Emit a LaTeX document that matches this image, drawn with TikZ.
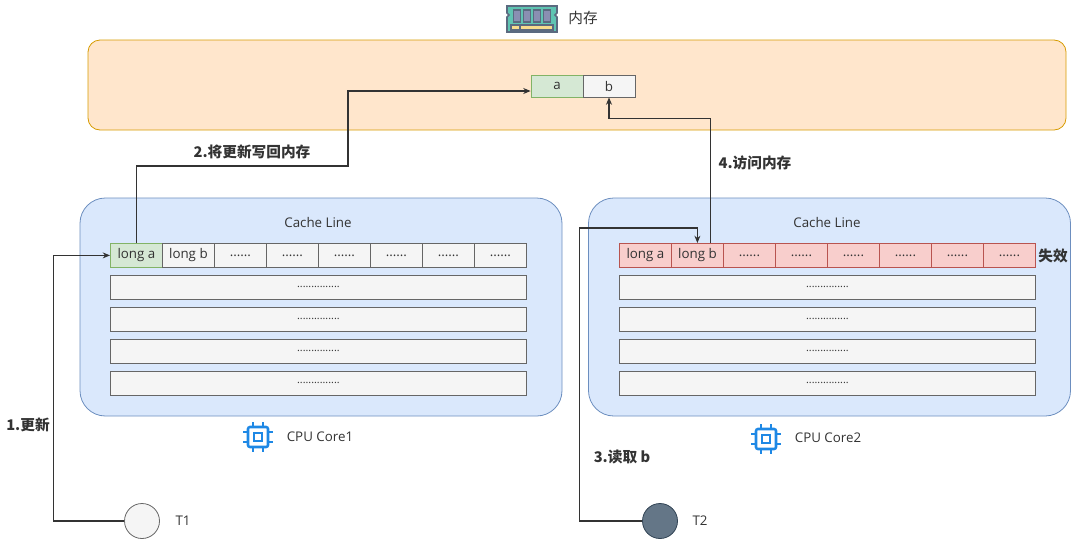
\documentclass[tikz,border=0pt]{standalone}
\usepackage{fontspec}
\setmainfont{Open Sans}
\newfontfamily\cjk{Noto Sans CJK SC}
\usetikzlibrary{arrows.meta}
\definecolor{memfill}{HTML}{FFE6CC}
\definecolor{memline}{HTML}{D79B00}
\definecolor{corefill}{HTML}{DAE8FC}
\definecolor{coreline}{HTML}{6C8EBF}
\definecolor{greenfill}{HTML}{D5E8D4}
\definecolor{greenline}{HTML}{82B366}
\definecolor{redfill}{HTML}{F8CECC}
\definecolor{redline}{HTML}{B85450}
\definecolor{cellfill}{HTML}{F5F5F5}
\definecolor{cellline}{HTML}{666666}
\definecolor{threadfill}{HTML}{647687}
\definecolor{threadline}{HTML}{314354}
\definecolor{textgray}{HTML}{333333}
\definecolor{cpublue}{HTML}{1E88E5}
\definecolor{ramteal}{HTML}{5FC4B2}
\definecolor{ramline}{HTML}{5B6A80}
\definecolor{ramchip}{HTML}{8A8FB2}
\definecolor{ramgold}{HTML}{F6DC8C}
\begin{document}
\begin{tikzpicture}
	[x=0.75pt,y=-0.75pt,
	plaincell/.style={draw=cellline,fill=cellfill,line width=0.6pt,minimum width=39pt,minimum height=18pt,inner sep=0pt,anchor=north west,text=textgray},
	greencell/.style={plaincell,draw=greenline,fill=greenfill},
	redcell/.style={plaincell,draw=redline,fill=redfill},
	rowcell/.style={plaincell,minimum width=312pt,font=\footnotesize},
	memcell/.style={plaincell,minimum height=16.5pt,anchor=center},
	core/.style={draw=coreline,fill=corefill,line width=0.6pt,rounded corners=19pt,minimum width=361.5pt,minimum height=163.5pt},
	mem/.style={draw=memline,fill=memfill,line width=0.6pt,rounded corners=9pt,minimum width=733.5pt,minimum height=67.5pt},
	thread/.style={circle,draw=cellline,fill=cellfill,line width=0.6pt,minimum size=26.25pt,inner sep=0pt},
	steplabel/.style={font={\cjk\bfseries\fontsize{11}{13}\selectfont},text=textgray},
	plainlabel/.style={text=textgray},
	link/.style={draw=textgray,line width=0.8pt,-{Stealth[length=5.5pt,width=4.5pt]}},
	chip/.pic={
		\draw[cpublue,line width=1.9pt,rounded corners=1.5pt] (-10,-10) rectangle (10,10);
		\draw[cpublue,line width=1.9pt] (-4,-4) rectangle (4,4);
		\foreach \p in {-5,5}
		{
			\draw[cpublue,line width=1.9pt] (\p,10) -- (\p,15) (\p,-10) -- (\p,-15) (10,\p) -- (15,\p) (-10,\p) -- (-15,\p);
		}
	},
	ram/.pic={
		\draw[ramline,fill=ramteal,line width=1.2pt] (-25,-13) -- (25,-13) -- (25,-6) -- (23,-4) -- (25,-2) -- (25,13) -- (-25,13) -- (-25,-2) -- (-23,-4) -- (-25,-6) -- cycle;
		\foreach \cx in {-15,-5,5,15}
		{
			\draw[ramline,fill=ramchip,line width=0.9pt] (\cx-3.5,-9) rectangle (\cx+3.5,3);
		}
		\draw[ramline,fill=ramgold,line width=0.9pt] (-21,6) rectangle (21,11);
		\draw[ramline,line width=0.9pt] (-12,6) -- (-12,11);
	}]
	\useasboundingbox (0,0) rectangle (1080,547);
	\pic at (532,19) {ram};
	\node[plainlabel,font={\cjk\fontsize{11}{13}\selectfont}] (memlabel) at (583,18) {内存};
	\node[mem] (mem) at (577,85) {};
	\node[memcell,draw=greenline,fill=greenfill] (ma) at (557,86) {a};
	\node[memcell] (mb) at (609,86) {b};
	\node[core] (core1) at (321,307) {};
	\node[core] (core2) at (829.5,307) {};
	\node[plainlabel] (title1) at (318,222) {Cache Line};
	\node[plainlabel] (title2) at (827,222) {Cache Line};
	\node[greencell] (l0) at (110,243) {long a};
	\node[plaincell] (l1) at (162,243) {long b};
	\foreach \i in {2,...,7}
	{
		\node[plaincell] (l\i) at ({110+52*\i},243) {......};
	}
	\node[redcell] (r0) at (619,243) {long a};
	\node[redcell] (r1) at (671,243) {long b};
	\foreach \i in {2,...,7}
	{
		\node[redcell] (r\i) at ({619+52*\i},243) {......};
	}
	\foreach \c/\x in {l/110,r/619}
	{
		\foreach \j in {0,...,3}
		{
			\node[rowcell] (\c row\j) at (\x,{275+32*\j}) {...............};
		}
	}
	\node[steplabel] (lost) at (1053,256) {失效};
	\pic at (258,437) {chip};
	\node[plainlabel] (cpu1) at (320,437) {CPU Core1};
	\pic at (766,439) {chip};
	\node[plainlabel] (cpu2) at (828,438) {CPU Core2};
	\node[thread] (t1) at (142,521) {};
	\node[plainlabel] (t1label) at (183,521) {T1};
	\node[thread,draw=threadline,fill=threadfill] (t2) at (660,521) {};
	\node[plainlabel] (t2label) at (700,521) {T2};
	\coordinate (bend2) at (348,166);
	\draw[link] (t1.west) -- ++(-71,0) |- (l0.west);
	\draw[link] (l0.north) |- (bend2) |- ([yshift=-3.75pt]ma.west);
	\draw[link] (t2.west) -- ++(-63,0) |- ([yshift=11.25pt]r1.north) -- (r1.north);
	\draw[link] ([xshift=9.75pt]r1.north) |- ([yshift=-15.75pt]mb.south) -- (mb.south);
	\node[steplabel] (step1) at (28,425) {1.更新};
	\node[steplabel] (step2) at (252,152) {2.将更新写回内存};
	\node[steplabel] (step3) at (622,457) {3.读取 b};
	\node[steplabel] (step4) at (755,163) {4.访问内存};
\end{tikzpicture}
\end{document}
